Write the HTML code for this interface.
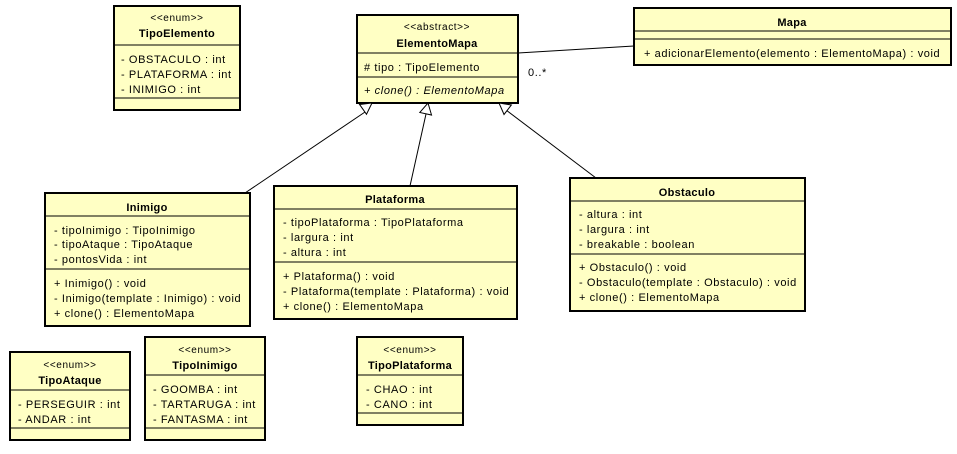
<!DOCTYPE html>
<html><head><meta charset="utf-8"><style>
html,body{margin:0;padding:0;background:#fff;}
svg{display:block;font-family:"Liberation Sans",Arial,sans-serif;font-size:11px;letter-spacing:0.6px;}
.box{fill:#ffffc4;stroke:#000;stroke-width:2;}
.div{stroke:#000;stroke-width:1;}
.b{font-weight:bold;text-anchor:middle;letter-spacing:0.3px;}
.c{text-anchor:middle;font-size:10px;}
</style></head><body>
<svg id="d" width="957" height="454" viewBox="0 0 957 454">
<g stroke="#000" stroke-width="1" fill="none">
<line x1="518" y1="53" x2="634" y2="46"/>
<line x1="245" y1="193" x2="368" y2="110"/>
<line x1="410" y1="186" x2="426" y2="114"/>
<line x1="596" y1="178" x2="506" y2="110"/>
</g>
<text x="528" y="76">0..*</text>

<g>
<rect class="box" x="114" y="6" width="126" height="104"/>
<text class="c" x="177" y="21">&lt;&lt;enum&gt;&gt;</text>
<text class="b" x="177" y="37">TipoElemento</text>
<line class="div" x1="114" y1="45" x2="240" y2="45"/>
<text x="121" y="63">- OBSTACULO : int</text>
<text x="121" y="78">- PLATAFORMA : int</text>
<text x="121" y="93">- INIMIGO : int</text>
<line class="div" x1="114" y1="98" x2="240" y2="98"/>
</g>

<g>
<rect class="box" x="357" y="15" width="161" height="88"/>
<text class="c" x="437" y="30">&lt;&lt;abstract&gt;&gt;</text>
<text class="b" x="437" y="47">ElementoMapa</text>
<line class="div" x1="357" y1="53" x2="518" y2="53"/>
<text x="364" y="71"># tipo : TipoElemento</text>
<line class="div" x1="357" y1="77" x2="518" y2="77"/>
<text x="364" y="94" font-style="italic">+ clone() : ElementoMapa</text>
</g>

<g>
<rect class="box" x="634" y="8" width="317" height="57"/>
<text class="b" x="792" y="26">Mapa</text>
<line class="div" x1="634" y1="31" x2="951" y2="31"/>
<line class="div" x1="634" y1="39" x2="951" y2="39"/>
<text x="644" y="57">+ adicionarElemento(elemento : ElementoMapa) : void</text>
</g>

<g>
<rect class="box" x="45" y="193" width="205" height="133"/>
<text class="b" x="147" y="211">Inimigo</text>
<line class="div" x1="45" y1="216" x2="250" y2="216"/>
<text x="54" y="234">- tipoInimigo : TipoInimigo</text>
<text x="54" y="248">- tipoAtaque : TipoAtaque</text>
<text x="54" y="263">- pontosVida : int</text>
<line class="div" x1="45" y1="269" x2="250" y2="269"/>
<text x="54" y="287">+ Inimigo() : void</text>
<text x="54" y="302">- Inimigo(template : Inimigo) : void</text>
<text x="54" y="317">+ clone() : ElementoMapa</text>
</g>

<g>
<rect class="box" x="274" y="186" width="243" height="133"/>
<text class="b" x="395" y="203">Plataforma</text>
<line class="div" x1="274" y1="209" x2="517" y2="209"/>
<text x="283" y="226">- tipoPlataforma : TipoPlataforma</text>
<text x="283" y="241">- largura : int</text>
<text x="283" y="256">- altura : int</text>
<line class="div" x1="274" y1="262" x2="517" y2="262"/>
<text x="283" y="280">+ Plataforma() : void</text>
<text x="283" y="295">- Plataforma(template : Plataforma) : void</text>
<text x="283" y="310">+ clone() : ElementoMapa</text>
</g>

<g>
<rect class="box" x="570" y="178" width="235" height="133"/>
<text class="b" x="687" y="196">Obstaculo</text>
<line class="div" x1="570" y1="201" x2="805" y2="201"/>
<text x="579" y="218">- altura : int</text>
<text x="579" y="233">- largura : int</text>
<text x="579" y="248">- breakable : boolean</text>
<line class="div" x1="570" y1="254" x2="805" y2="254"/>
<text x="579" y="271">+ Obstaculo() : void</text>
<text x="579" y="286">- Obstaculo(template : Obstaculo) : void</text>
<text x="579" y="301">+ clone() : ElementoMapa</text>
</g>

<g>
<rect class="box" x="10" y="352" width="120" height="88"/>
<text class="c" x="70" y="368">&lt;&lt;enum&gt;&gt;</text>
<text class="b" x="70" y="384">TipoAtaque</text>
<line class="div" x1="10" y1="390" x2="130" y2="390"/>
<text x="18" y="408">- PERSEGUIR : int</text>
<text x="18" y="423">- ANDAR : int</text>
<line class="div" x1="10" y1="428" x2="130" y2="428"/>
</g>

<g>
<rect class="box" x="145" y="337" width="120" height="103"/>
<text class="c" x="205" y="353">&lt;&lt;enum&gt;&gt;</text>
<text class="b" x="205" y="369">TipoInimigo</text>
<line class="div" x1="145" y1="375" x2="265" y2="375"/>
<text x="153" y="393">- GOOMBA : int</text>
<text x="153" y="408">- TARTARUGA : int</text>
<text x="153" y="423">- FANTASMA : int</text>
<line class="div" x1="145" y1="428" x2="265" y2="428"/>
</g>

<g>
<rect class="box" x="357" y="337" width="106" height="88"/>
<text class="c" x="410" y="353">&lt;&lt;enum&gt;&gt;</text>
<text class="b" x="410" y="369">TipoPlataforma</text>
<line class="div" x1="357" y1="375" x2="463" y2="375"/>
<text x="366" y="393">- CHAO : int</text>
<text x="366" y="408">- CANO : int</text>
<line class="div" x1="357" y1="413" x2="463" y2="413"/>
</g>
<g id="arrows"></g>
</svg>
<script>
var g=document.getElementById('arrows');
var heads=[[245,193,372,103],[410,186,428,103],[596,178,499,103]];
heads.forEach(function(h){
  var dx=h[2]-h[0],dy=h[3]-h[1],L=Math.sqrt(dx*dx+dy*dy),ux=dx/L,uy=dy/L;
  var bx=h[2]-ux*11,by=h[3]-uy*11,px=-uy*6,py=ux*6;
  var p=document.createElementNS('http://www.w3.org/2000/svg','polygon');
  p.setAttribute('points',h[2]+','+h[3]+' '+(bx+px)+','+(by+py)+' '+(bx-px)+','+(by-py));
  p.setAttribute('fill','#fff');p.setAttribute('stroke','#000');
  
  
  g.appendChild(p);
});
</script>
</body></html>
